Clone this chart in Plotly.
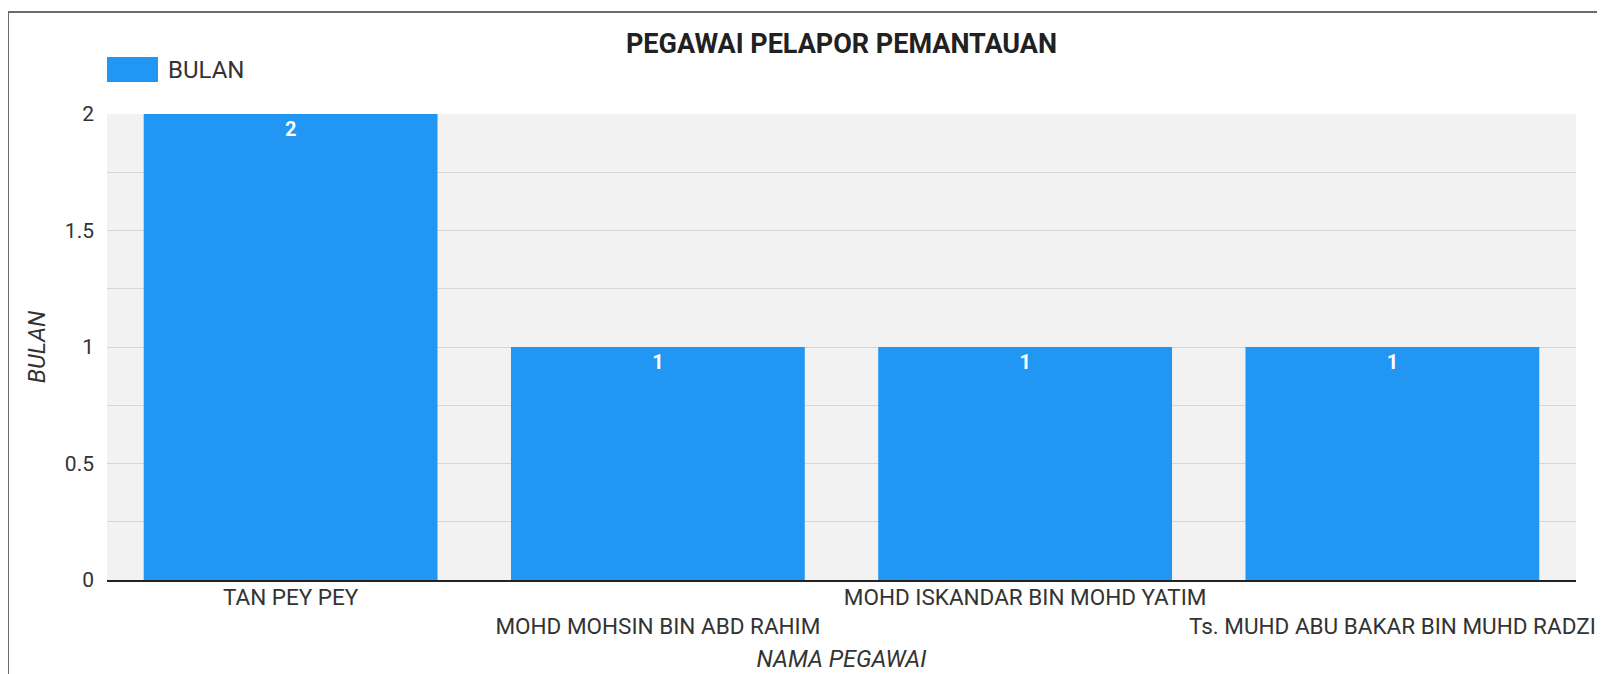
import plotly.graph_objects as go

# ─── 데이터 ─────────────────────────────────────────
pegawai = [
    "TAN PEY PEY",
    "MOHD MOHSIN BIN ABD RAHIM",
    "MOHD ISKANDAR BIN MOHD YATIM",
    "Ts. MUHD ABU BAKAR BIN MUHD RADZI",
]
bulan = [2, 1, 1, 1]
y_ticks = [0, 0.5, 1, 1.5, 2]
y_tick_labels = ["0", "0.5", "1", "1.5", "2"]
series_name = "BULAN"

BAR_COLOR = "#2196F3"
FONT = "Roboto"
OFF = 8  # page body margin
W, H = 1605 - OFF, 674 - OFF
M = dict(l=107 - OFF, r=29, t=114 - OFF, b=94)

# staggered labels: every second label drops to a second row
tick_text = [("<br>" + n if i % 2 else n) for i, n in enumerate(pegawai)]

fig = go.Figure(go.Bar(
    x=pegawai,
    y=bulan,
    name=series_name,
    marker_color=BAR_COLOR,
    marker_line_width=0,
    text=bulan,
    textposition="inside",
    insidetextanchor="end",
    textfont=dict(family=FONT, size=20, color="white", weight="bold"),
    showlegend=False,
))

pw = W - M["l"] - M["r"]
ph = H - M["t"] - M["b"]


# page pixel -> paper coords
def px_x(x):
    return (x - OFF - M["l"]) / pw


def px_y(y):
    return 1 + (M["t"] - (y - OFF)) / ph


# frame + legend swatch
fig.add_shape(type="rect", xref="paper", yref="paper",
              x0=px_x(8), x1=px_x(1700), y0=px_y(12), y1=px_y(760),
              line=dict(color="#6b6b6b", width=2), fillcolor="rgba(0,0,0,0)", layer="above")
fig.add_shape(type="rect", xref="paper", yref="paper",
              x0=px_x(107), x1=px_x(158), y0=px_y(57), y1=px_y(82),
              line_width=0, fillcolor=BAR_COLOR)
fig.add_annotation(xref="paper", yref="paper", x=px_x(166), y=px_y(70),
                   text=series_name, showarrow=False, xanchor="left", yanchor="middle",
                   font=dict(family=FONT, size=24, color="#333333"))

fig.update_layout(
    width=W, height=H,
    margin=M,
    paper_bgcolor="white",
    plot_bgcolor="#F2F2F2",
    bargap=0.2,
    font=dict(family=FONT, color="#333333"),
    title=dict(text="<b>PEGAWAI PELAPOR PEMANTAUAN</b>", x=0.5, xref="paper", xanchor="center",
               y=1 - (44 - OFF) / H, yanchor="middle",
               font=dict(family=FONT, size=27, color="#212121")),
)
fig.update_xaxes(
    tickmode="array", tickvals=pegawai, ticktext=tick_text, tickangle=0,
    tickfont=dict(family=FONT, size=22.5, color="#333333"),
    showline=True, linecolor="#222222", linewidth=2,
    showgrid=False, ticks="", ticklabelstandoff=-4,
    title=dict(text="<i>NAMA PEGAWAI</i>", standoff=12,
               font=dict(family=FONT, size=23.5, color="#333333")),
    automargin=False,
)
fig.update_yaxes(
    range=[0, 2], tickmode="array", tickvals=y_ticks, ticktext=y_tick_labels,
    tickfont=dict(family=FONT, size=21, color="#333333"),
    showgrid=True, gridcolor="#D6D6D6", gridwidth=1,
    minor=dict(dtick=0.25, showgrid=True, gridcolor="#D6D6D6", gridwidth=1),
    zeroline=False, ticks="", ticklabelstandoff=12,
    title=dict(text="<i>BULAN</i>", standoff=12,
               font=dict(family=FONT, size=23.5, color="#333333")),
    automargin=False,
)

fig.write_html("out.html")
